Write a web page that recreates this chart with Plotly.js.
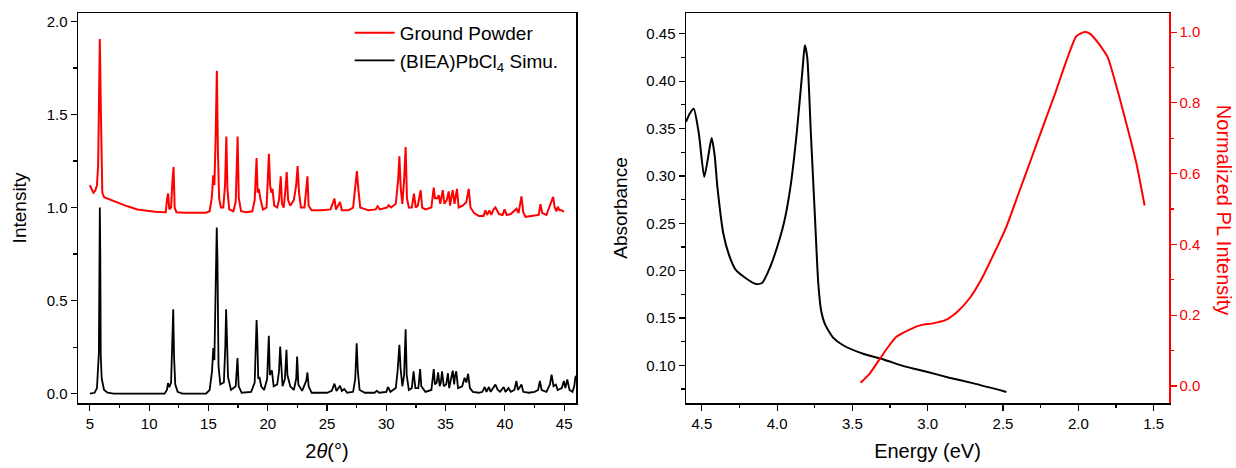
<!DOCTYPE html>
<html>
<head>
<meta charset="utf-8">
<script src="https://cdn.plot.ly/plotly-3.0.1.min.js"></script>
<style>html,body{margin:0;padding:0;background:#fff;}#chart{width:1236px;height:468px;}</style>
</head>
<body>
<div id="chart"></div>
<script>
// ---- Left panel: XRD (2θ in degrees, normalized intensity; ground powder offset by +1) ----
const powderTwoTheta = [5.0,5.15,5.3,5.45,5.6,5.7,5.76,5.84,5.92,5.98,6.05,6.2,6.6,7.0,7.5,8.0,8.5,9.0,9.5,10.0,10.5,11.0,11.4,11.52,11.6,11.7,11.85,11.97,12.06,12.15,12.3,13.0,14.0,14.8,15.1,15.28,15.4,15.5,15.6,15.71,15.8,15.9,16.05,16.25,16.4,16.51,16.6,16.75,17.1,17.3,17.46,17.56,17.75,18.2,18.7,18.9,19.06,19.15,19.25,19.4,19.6,19.9,20.1,20.2,20.3,20.4,20.55,20.8,20.95,21.1,21.2,21.35,21.5,21.6,21.72,21.9,22.2,22.4,22.52,22.64,22.8,23.1,23.35,23.45,23.7,24.5,25.3,25.63,25.75,26.1,26.25,26.8,27.2,27.4,27.52,27.64,27.8,28.5,29.1,29.26,29.45,30.05,30.2,30.4,30.8,31.0,31.1,31.22,31.35,31.5,31.63,31.74,31.9,32.15,32.33,32.48,32.65,32.9,33.02,33.3,33.8,34.0,34.1,34.3,34.42,34.55,34.76,34.9,35.1,35.26,35.38,35.5,35.6,35.75,35.96,36.1,36.45,36.6,36.75,36.95,37.1,37.4,37.8,38.2,38.36,38.5,38.7,38.85,39.05,39.2,39.5,39.8,39.97,40.15,40.5,40.98,41.15,41.4,41.55,41.74,42.3,42.85,43.0,43.15,43.5,43.9,44.07,44.2,44.35,44.46,44.6,44.8,44.97];
const powderIntensity = [1.12,1.10,1.08,1.09,1.12,1.23,1.45,1.905,1.55,1.20,1.08,1.055,1.045,1.035,1.02,1.01,1.0,0.99,0.985,0.98,0.978,0.976,0.975,1.05,1.075,0.99,1.0,1.15,1.218,1.0,0.975,0.972,0.97,0.972,0.98,1.05,1.173,1.12,1.35,1.735,1.30,1.05,1.0,1.0,1.12,1.382,1.10,0.99,0.98,1.03,1.382,1.05,0.98,0.975,0.98,1.04,1.266,1.08,1.10,1.04,0.99,1.0,1.289,1.12,1.08,1.10,1.01,1.0,1.04,1.168,1.02,1.0,1.10,1.19,1.04,1.01,1.04,1.12,1.223,1.08,1.0,1.0,1.168,1.01,0.985,0.985,0.99,1.048,0.99,1.03,0.985,0.985,1.0,1.12,1.196,1.10,1.0,0.985,0.99,1.007,0.99,1.0,1.012,1.0,1.02,1.15,1.275,1.10,1.02,1.15,1.325,1.05,1.0,1.0,1.075,1.0,1.01,1.093,1.0,0.99,1.0,1.107,1.05,1.05,1.066,1.02,1.093,1.02,1.04,1.087,1.01,1.06,1.093,1.02,1.10,1.0,1.01,1.02,1.03,1.10,1.0,0.97,0.955,0.955,0.985,0.96,0.985,0.96,0.99,1.0,0.965,0.96,0.99,0.96,0.965,0.994,0.97,1.06,0.975,0.95,0.955,0.96,1.018,0.97,0.96,1.03,1.057,1.0,0.98,1.004,0.985,0.985,0.976];

const simuTwoTheta = [5.0,5.4,5.6,5.7,5.76,5.8,5.84,5.88,5.92,6.0,6.2,6.5,7.0,11.3,11.5,11.59,11.7,11.85,11.95,12.03,12.1,12.2,12.4,12.8,14.8,15.1,15.3,15.41,15.5,15.6,15.7,15.76,15.85,16.0,16.3,16.42,16.49,16.56,16.65,16.9,17.3,17.45,17.55,17.8,18.6,18.9,19.0,19.06,19.12,19.2,19.3,19.45,19.7,19.95,20.09,20.18,20.35,20.5,20.8,20.95,21.05,21.12,21.25,21.45,21.58,21.66,21.75,21.9,22.2,22.4,22.48,22.58,22.9,23.25,23.35,23.45,23.7,25.0,25.4,25.63,25.8,26.1,26.25,26.45,26.7,27.2,27.38,27.5,27.6,27.75,28.2,29.0,29.2,29.4,30.0,30.14,30.35,30.8,30.95,31.1,31.2,31.35,31.5,31.63,31.72,31.9,32.15,32.3,32.45,32.7,32.85,32.95,33.3,33.8,34.0,34.1,34.25,34.37,34.5,34.6,34.7,34.85,35.05,35.2,35.3,35.45,35.6,35.72,35.8,35.9,36.05,36.4,36.6,36.75,36.9,37.05,37.3,37.8,38.1,38.3,38.45,38.65,38.8,39.05,39.2,39.4,39.6,39.9,40.05,40.3,40.5,40.8,40.97,41.1,41.4,41.55,42.0,42.5,42.8,42.95,43.1,43.5,43.8,43.94,44.1,44.3,44.45,44.8,44.97,45.1,45.26,45.45,45.7,45.85,45.95,46.05];
const simuIntensity = [0.0,0.005,0.03,0.12,0.22,0.6,1.0,0.75,0.2,0.08,0.02,0.005,0.0,0.0,0.02,0.057,0.035,0.06,0.25,0.454,0.2,0.05,0.01,0.0,0.0,0.02,0.12,0.245,0.18,0.5,0.893,0.72,0.15,0.05,0.06,0.25,0.454,0.3,0.09,0.02,0.04,0.191,0.04,0.005,0.01,0.06,0.25,0.396,0.3,0.08,0.09,0.04,0.02,0.08,0.311,0.1,0.125,0.04,0.05,0.12,0.253,0.18,0.04,0.08,0.236,0.1,0.07,0.04,0.02,0.08,0.2,0.05,0.015,0.07,0.114,0.04,0.005,0.005,0.015,0.054,0.015,0.043,0.015,0.025,0.005,0.01,0.08,0.271,0.12,0.02,0.005,0.005,0.015,0.005,0.01,0.036,0.01,0.03,0.12,0.262,0.14,0.04,0.1,0.346,0.1,0.02,0.03,0.12,0.03,0.03,0.132,0.04,0.01,0.02,0.132,0.05,0.06,0.114,0.04,0.06,0.12,0.04,0.05,0.11,0.03,0.07,0.124,0.05,0.1,0.12,0.03,0.04,0.085,0.06,0.107,0.03,0.01,0.005,0.01,0.036,0.01,0.036,0.01,0.035,0.049,0.02,0.01,0.036,0.01,0.03,0.01,0.02,0.068,0.02,0.049,0.01,0.005,0.01,0.02,0.068,0.02,0.01,0.05,0.102,0.04,0.049,0.02,0.03,0.068,0.03,0.076,0.02,0.01,0.04,0.09,0.095];

// ---- Right panel: absorbance and normalized PL vs photon energy (eV) ----
const absEnergy = [4.605,4.58,4.554,4.52,4.484,4.46,4.435,4.415,4.397,4.357,4.316,4.276,4.208,4.141,4.10,4.046,3.992,3.951,3.911,3.870,3.830,3.816,3.80,3.776,3.749,3.727,3.708,3.681,3.627,3.559,3.424,3.289,3.154,3.0,2.857,2.695,2.478];
const absorbance = [0.357,0.366,0.371,0.345,0.299,0.318,0.340,0.322,0.289,0.239,0.215,0.201,0.192,0.186,0.187,0.204,0.229,0.253,0.289,0.345,0.415,0.438,0.425,0.345,0.257,0.187,0.158,0.143,0.129,0.121,0.112,0.106,0.099,0.093,0.087,0.081,0.072];

const plEnergy = [3.446,3.384,3.316,3.262,3.208,3.127,3.046,2.965,2.884,2.803,2.722,2.641,2.559,2.478,2.397,2.316,2.235,2.154,2.08,2.015,1.98,1.95,1.915,1.882,1.86,1.806,1.749,1.682,1.615,1.56];
const plIntensity = [0.009,0.036,0.078,0.111,0.139,0.158,0.172,0.177,0.186,0.21,0.248,0.304,0.375,0.45,0.544,0.638,0.733,0.827,0.918,0.987,0.997,1.0,0.993,0.977,0.965,0.93,0.85,0.743,0.63,0.51];

const FONT = 'Liberation Sans, Arial, sans-serif';
const RED = '#ff0000';

const traces = [
  {x: powderTwoTheta, y: powderIntensity, xaxis: 'x', yaxis: 'y', type: 'scatter', mode: 'lines',
   name: 'Ground Powder', line: {color: RED, width: 2}},
  {x: simuTwoTheta, y: simuIntensity, xaxis: 'x', yaxis: 'y', type: 'scatter', mode: 'lines',
   name: '(BIEA)PbCl<sub>4</sub> Simu.', line: {color: '#000', width: 1.8}},
  {x: absEnergy, y: absorbance, xaxis: 'x2', yaxis: 'y2', type: 'scatter', mode: 'lines',
   name: 'Absorbance', showlegend: false, line: {color: '#000', width: 2, shape: 'spline', smoothing: 0.6}},
  {x: plEnergy, y: plIntensity, xaxis: 'x2', yaxis: 'y3', type: 'scatter', mode: 'lines',
   name: 'Normalized PL Intensity', showlegend: false, line: {color: RED, width: 2, shape: 'spline', smoothing: 0.6}}
];

const tickf = {family: FONT, size: 15, color: '#000'};
const axBase = {
  showgrid: false, zeroline: false, showline: true, linecolor: '#000', linewidth: 1.5,
  ticks: 'outside', ticklen: 6, tickwidth: 1.2, tickcolor: '#000', tickfont: tickf
};

const layout = {
  width: 1236, height: 468,
  margin: {l: 78, r: 67, t: 13, b: 65},
  paper_bgcolor: '#fff', plot_bgcolor: '#fff',
  font: {family: FONT, color: '#000'},
  showlegend: true,
  legend: {x: 0.249, y: 0.998, xanchor: 'left', yanchor: 'top', bgcolor: 'rgba(0,0,0,0)',
           font: {family: FONT, size: 19, color: '#000'}, itemwidth: 40, tracegroupgap: 0},
  xaxis: Object.assign({}, axBase, {
    domain: [0, 0.4565], range: [4, 46], anchor: 'y', mirror: true,
    tickmode: 'linear', tick0: 5, dtick: 5,
    minor: {ticks: 'outside', tick0: 5, dtick: 2.5, ticklen: 3.5, tickcolor: '#000', tickwidth: 1.2},
    title: {text: '2<i>θ</i>(°)', font: {family: FONT, size: 20, color: '#000'}, standoff: 13}
  }),
  yaxis: Object.assign({}, axBase, {
    domain: [0, 1], range: [-0.05, 2.045], anchor: 'x', mirror: true,
    tickmode: 'linear', tick0: 0, dtick: 0.5, tickformat: '.1f',
    minor: {ticks: 'outside', tick0: 0, dtick: 0.25, ticklen: 3.5, tickcolor: '#000', tickwidth: 1.2},
    title: {text: 'Intensity', font: {family: FONT, size: 19, color: '#000'}, standoff: 15}
  }),
  xaxis2: Object.assign({}, axBase, {
    domain: [0.5573, 1], range: [4.605, 1.398], anchor: 'y2', mirror: true,
    tickmode: 'linear', tick0: 1.5, dtick: 0.5, tickformat: '.1f',
    minor: {ticks: 'outside', tick0: 1.5, dtick: 0.25, ticklen: 3.5, tickcolor: '#000', tickwidth: 1.2},
    title: {text: 'Energy (eV)', font: {family: FONT, size: 20, color: '#000'}, standoff: 13}
  }),
  yaxis2: Object.assign({}, axBase, {
    domain: [0, 1], range: [0.0603, 0.472], anchor: 'x2', mirror: false,
    tickmode: 'linear', tick0: 0.1, dtick: 0.05, tickformat: '.2f',
    minor: {ticks: 'outside', tick0: 0.1, dtick: 0.025, ticklen: 3.5, tickcolor: '#000', tickwidth: 1.2},
    title: {text: 'Absorbance', font: {family: FONT, size: 19, color: '#000'}, standoff: 13}
  }),
  yaxis3: Object.assign({}, axBase, {
    overlaying: 'y2', side: 'right', anchor: 'x2',
    range: [-0.048, 1.054], linecolor: RED, tickcolor: RED,
    tickfont: {family: FONT, size: 15, color: RED},
    tickmode: 'linear', tick0: 0, dtick: 0.2, tickformat: '.1f',
    minor: {ticks: 'outside', tick0: 0, dtick: 0.1, ticklen: 3.5, tickcolor: RED, tickwidth: 1.2}
  }),
  annotations: [{
    text: 'Normalized PL Intensity', xref: 'paper', yref: 'paper',
    x: 1.0505, y: 0.495, xanchor: 'center', yanchor: 'middle', textangle: 90, showarrow: false,
    font: {family: FONT, size: 20, color: RED}
  }]
};

Plotly.newPlot('chart', traces, layout, {displayModeBar: false, staticPlot: true});
</script>
</body>
</html>
